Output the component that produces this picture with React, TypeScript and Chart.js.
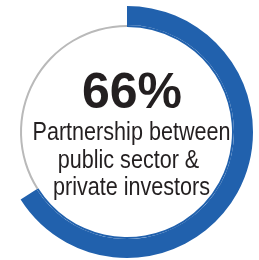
import React, { useEffect, useRef } from "react";
import { Chart, registerables } from "chart.js";

Chart.register(...registerables);

const categories = ["Partnership between public sector & private investors", "Other"];
const shareValues = [66, 34];
const headline = "66%";
const captionLines = ["Partnership between", "public sector &", "private investors"];

const BLUE = "#2161ad";
const GRAY = "#b9b9b9";
const TEXT = "#231f20";

export default function App() {
  const ref = useRef<HTMLCanvasElement | null>(null);

  useEffect(() => {
    if (!ref.current) return;
    const textPlugin = {
      id: "centerText",
      afterDraw(chart: any) {
        const ctx = chart.ctx;
        ctx.save();
        ctx.fillStyle = TEXT;
        ctx.textAlign = "center";
        ctx.textBaseline = "alphabetic";
        ctx.font = 'bold 50px "Liberation Sans", Arial, sans-serif';
        ctx.fillText(headline, 132, 108);
        const baselines = [140, 168, 195];
        const centers = [131.5, 128.5, 131.5];
        ctx.font = '26px "Liberation Sans", Arial, sans-serif';
        captionLines.forEach((line, i) => {
          ctx.save();
          ctx.translate(centers[i], baselines[i]);
          ctx.scale(0.83, 1);
          ctx.fillText(line, 0, 0);
          ctx.restore();
        });
        ctx.restore();
      },
    };
    const chart = new Chart(ref.current, {
      type: "doughnut",
      data: {
        labels: categories,
        datasets: [
          {
            data: shareValues,
            backgroundColor: [BLUE, "rgba(0,0,0,0)"],
            borderWidth: 0,
            weight: 19,
          },
          {
            data: shareValues,
            backgroundColor: [BLUE, GRAY],
            borderWidth: 0,
            weight: 2,
          },
        ],
      },
      options: {
        animation: false,
        responsive: true,
        maintainAspectRatio: false,
        cutout: 105,
        layout: { padding: { left: 1, right: 6, top: 6, bottom: 2 } },
        plugins: {
          legend: { display: false },
          tooltip: { enabled: false },
        },
      },
      plugins: [textPlugin],
    });
    return () => chart.destroy();
  }, []);

  return (
    <div style={{ position: "absolute", left: 0, top: 0, width: 259, height: 260, background: "#fff" }}>
      <canvas ref={ref} />
    </div>
  );
}
